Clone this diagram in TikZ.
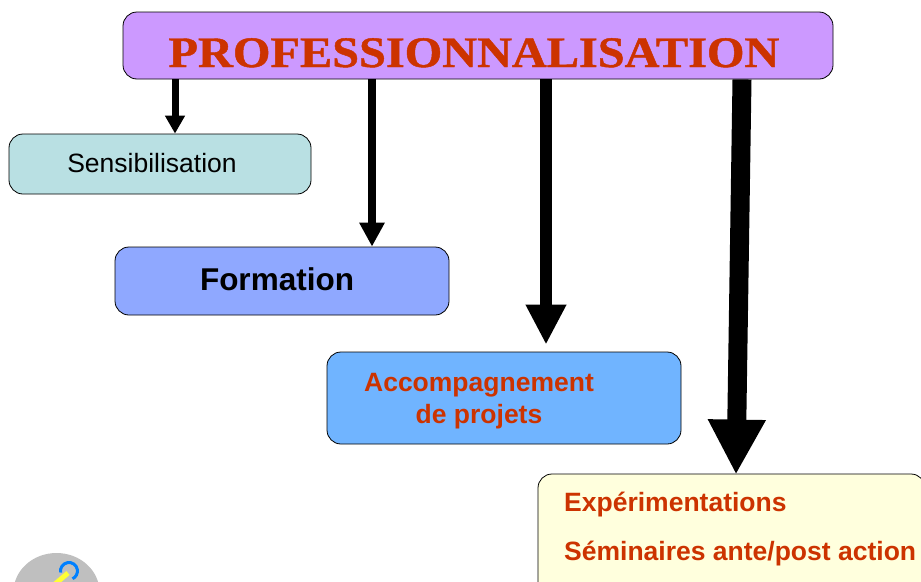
\documentclass[tikz,border=0pt]{standalone}
\usepackage{fontspec}
\setmainfont{Liberation Sans}
\newfontfamily\titlefont[BoldFeatures={FakeBold=1}]{Liberation Serif}
\usetikzlibrary{arrows.meta}
\definecolor{profpurple}{RGB}{204,153,255}
\definecolor{profred}{RGB}{204,51,0}
\definecolor{senscyan}{RGB}{185,224,227}
\definecolor{formblue}{RGB}{143,168,255}
\definecolor{accblue}{RGB}{112,180,255}
\definecolor{expyellow}{RGB}{255,255,221}
\definecolor{iconblue}{RGB}{0,128,255}
\definecolor{iconyellow}{RGB}{255,255,51}
\tikzset{
  stagebox/.style={draw=black, line width=0.8pt, rounded corners=14pt, inner sep=0pt},
  stagelabel/.style={anchor=base, inner sep=0pt, font=\fontsize{26.5}{32}\selectfont\bfseries, text=profred},
  arrowa/.style={line width=7pt, -{Triangle[length=18pt,width=19pt]}},
  arrowb/.style={line width=8pt, -{Triangle[length=24pt,width=24pt]}},
  arrowc/.style={line width=12pt, -{Triangle[length=40pt,width=38pt]}},
  arrowd/.style={line width=19pt, -{Triangle[length=55pt,width=54pt]}}
}

\begin{document}
\begin{tikzpicture}[x=1pt, y=-1pt]
\useasboundingbox (0,0) rectangle (921,581);

% Icon
\fill[black!25] (56.5,592) ellipse (43 and 39);
\draw[iconblue, line width=3pt] (60.6,572.5) arc (170:425:8.5);
\draw[iconyellow, line width=5pt] (68,573) -- (48,590);

% Boxes
\node[stagebox, fill=profpurple, minimum width=710pt, minimum height=67pt] (title) at (478,45.5) {};
\node[stagebox, fill=senscyan, minimum width=302pt, minimum height=60pt] (sens) at (160,164) {};
\node[stagebox, fill=formblue, minimum width=334pt, minimum height=68pt] (formation) at (282,281) {};
\node[stagebox, fill=accblue, minimum width=354pt, minimum height=92pt] (accomp) at (504,398) {};
\node[stagebox, fill=expyellow, minimum width=387pt, minimum height=122pt] (exper) at (731.5,535) {};

% Labels
\node[anchor=base, inner sep=0pt, text=profred, font=\fontsize{43.5}{44}\selectfont\titlefont\bfseries] (titletext) at (474,67) {\scalebox{1.11}[1]{PROFESSIONNALISATION}};
\node[anchor=base, inner sep=0pt, font=\fontsize{26.5}{32}\selectfont] (senstext) at (152,172) {Sensibilisation};
\node[anchor=base, inner sep=0pt, font=\fontsize{31.5}{36}\selectfont\bfseries] (formtext) at (277,290) {Formation};
\node[stagelabel] (acctext) at (479,391) {Accompagnement};
\node[stagelabel] (projtext) at (479,423) {de projets};
\node[stagelabel, anchor=base west] (exptext) at (564,511) {Expérimentations};
\node[stagelabel, anchor=base west] (semtext) at (564,560) {Séminaires ante/post action};

% Arrows
\coordinate (tipa) at ([xshift=15pt]sens.north);
\coordinate (tipb) at ([xshift=90pt]formation.north);
\coordinate (tipc) at ([xshift=42pt,yshift=7pt]accomp.north);
\coordinate (tipd) at ([xshift=4.5pt,yshift=-1pt]exper.north);
\draw[arrowa] (title.south -| tipa) -- (tipa);
\draw[arrowb] (title.south -| tipb) -- (tipb);
\draw[arrowc] (title.south -| tipc) -- (tipc);
\draw[arrowd] ([xshift=264pt]title.south) -- (tipd);
\end{tikzpicture}
\end{document}
